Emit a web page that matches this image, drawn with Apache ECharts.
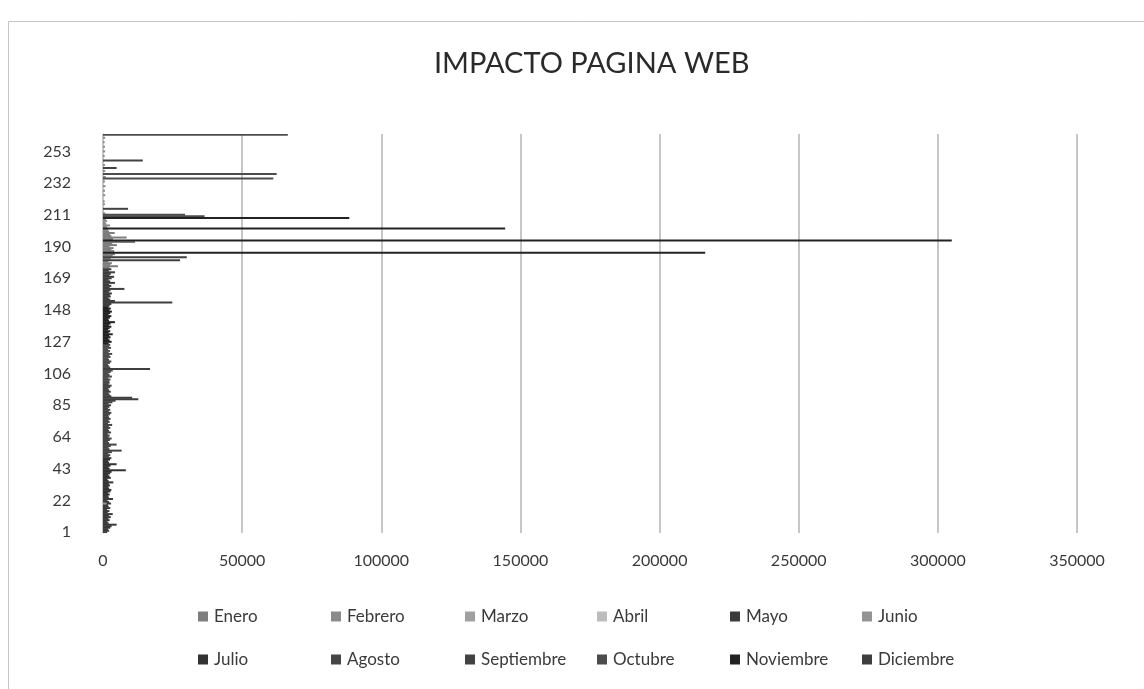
<!DOCTYPE html>
<html>
<head>
<meta charset="utf-8">
<script src="https://cdn.jsdelivr.net/npm/echarts@6/dist/echarts.min.js"></script>
<style>
html,body{margin:0;padding:0;background:#fff;}
#chart{width:1144px;height:689px;}
</style>
</head>
<body>
<div id="chart"></div>
<script>
// ---------- DATA ----------
const title = 'IMPACTO PAGINA WEB';
const categoryCount = 264;             // categories 1..264
const xTicks = [0, 50000, 100000, 150000, 200000, 250000, 300000, 350000];
const months = ['Enero','Febrero','Marzo','Abril','Mayo','Junio','Julio','Agosto','Septiembre','Octubre','Noviembre','Diciembre'];

// values as [category, visits]
const enero = [[176,2400],[177,5400],[178,2600],[179,3200],[180,2000],[182,2800],[184,3500],[185,4300],[187,4000],[188,3000],[189,3800],[190,2400],[191,5000],[192,3300],[193,11500],[195,3600],[196,8500],[197,3000],[198,2500],[199,4200],[200,2200]];
const febrero = [[201,1800],[203,1500],[204,2500],[205,1200],[206,900],[207,1500],[208,1000],[212,800],[218,700],[220,600],[224,800],[227,700],[230,900],[233,700],[236,1000],[240,800],[244,700],[250,600],[253,800],[256,700],[259,600],[262,800]];
const marzo = [[12,1200],[40,1400],[66,1100],[95,1300],[130,1000],[160,1200]];
const abril = [[8,900],[33,1000],[71,900],[118,1100],[142,900],[172,1000]];
const mayo = [[1,1500],[2,2200],[3,1800],[4,2600],[5,3100],[6,4900],[7,2000],[8,1600],[9,2400],[10,1900],[11,2800],[12,2100],[13,3500],[14,1700],[15,2300],[16,1500],[17,2600],[18,2000],[19,1800],[20,2900],[21,2200],[22,1600],[23,3600],[24,2100],[25,1900]];
const junio = [[20,1300],[52,1200],[84,1400],[112,1100],[148,1200],[168,1300]];
const julio = [[26,2400],[27,1800],[28,2700],[29,3000],[30,2200],[31,1900],[32,2500],[33,2100],[34,3700],[35,2000],[36,1600],[37,2800],[38,2300],[39,1900],[40,2600],[41,3100],[42,8200],[43,2400],[44,2000],[45,2700],[46,4900],[47,2200],[48,1800],[49,2500],[50,3000]];
const agosto = [[51,2100],[52,2600],[53,1900],[54,3200],[55,6700],[56,2300],[57,2000],[58,2800],[59,4900],[60,2200],[61,1800],[62,2500],[63,3100],[64,2000],[65,2400],[66,1700],[67,2900],[68,2200],[69,1900],[70,2600],[71,2100],[72,3300],[73,1800],[74,2400],[75,2000]];
const septiembre = [[76,2700],[77,2200],[78,1900],[79,2500],[80,3000],[81,2100],[82,2600],[83,1800],[84,2300],[85,2900],[86,2000],[87,3400],[88,4500],[91,3000],[92,2400],[93,2000],[94,2800],[95,2200],[96,1900],[97,2600],[98,3100],[99,2000],[100,2400],[215,9000],[242,4900],[247,14300]];
const octubre = [[101,2200],[102,2700],[103,1900],[104,3200],[105,2400],[106,2000],[107,2800],[108,3500],[110,2600],[111,2100],[112,1800],[113,2500],[114,3000],[115,2200],[116,1900],[117,2700],[118,2300],[119,3300],[120,2000],[121,2500],[122,1800],[123,2900],[124,2200],[125,2600],[264,66400],[238,62400],[235,61200],[211,29500],[210,36500]];
const noviembre = [[126,2000],[127,3100],[128,2400],[129,1900],[130,2700],[131,2200],[132,3500],[133,2000],[134,2600],[135,1800],[136,2400],[137,3000],[138,2100],[139,2700],[140,4300],[141,2200],[142,1900],[143,2500],[144,3000],[145,2000],[146,2600],[147,3200],[148,2300],[149,2800],[150,2000],[209,88500],[202,144500],[194,305000],[186,216400]];
const diciembre = [[151,2400],[152,3000],[154,4300],[155,2600],[156,2000],[157,2800],[158,2500],[159,3200],[160,2100],[161,2700],[162,7700],[163,2400],[164,3000],[165,2200],[166,4300],[167,2600],[168,2000],[169,3100],[170,4000],[171,2300],[172,2800],[173,4300],[174,2100],[175,3000],[89,12700],[90,10500],[109,16900],[153,24900],[181,27700],[183,30100]];

const monthData = [enero,febrero,marzo,abril,mayo,junio,julio,agosto,septiembre,octubre,noviembre,diciembre];
const monthColors = ['#7e7e7e','#8a8a8a','#a0a0a0','#bcbcbc','#3a3a3a','#949494','#333333','#454545','#424242','#4c4c4c','#222222','#3e3e3e'];

// ---------- CHART ----------
const categories = [];
for (let i = 1; i <= categoryCount; i++) categories.push(String(i));

const FONT = 'Lato, "Open Sans", sans-serif';

const series = months.map((m, i) => ({
  name: m,
  type: 'bar',
  barGap: '-100%',
  barWidth: 2,
  itemStyle: { color: monthColors[i] },
  data: monthData[i].map(d => [d[1], d[0] - 1]),
  animation: false
}));

const legendX = [198, 331, 465, 597, 730, 862];
const legendY = [608, 651];
const legends = months.map((m, i) => ({
  data: [m],
  left: legendX[i % 6],
  top: legendY[Math.floor(i / 6)],
  padding: 0,
  itemWidth: 10,
  itemHeight: 10,
  itemGap: 5,
  icon: 'rect',
  textStyle: { fontFamily: FONT, fontSize: 17, color: '#3a3a3a', padding: [0,0,0,1] },
  selectedMode: false
}));

const chart = echarts.init(document.getElementById('chart'), null, { renderer: 'canvas' });
chart.setOption({
  backgroundColor: '#ffffff',
  animation: false,
  title: {
    text: title,
    left: 429,
    top: 44,
    textStyle: { fontFamily: FONT, fontSize: 29, fontWeight: 'normal', color: '#2a2a2a' }
  },
  legend: legends,
  grid: { left: 103, right: 67, top: 134, height: 399, containLabel: false },
  xAxis: {
    type: 'value',
    min: 0,
    max: 350000,
    interval: 50000,
    axisLine: { show: false },
    axisTick: { show: false },
    splitLine: { show: true, lineStyle: { color: '#c6c6c6', width: 2 } },
    axisLabel: {
      fontFamily: FONT, fontSize: 16, color: '#3a3a3a', margin: 20,
      formatter: v => (xTicks.indexOf(v) >= 0 ? String(v) : '')
    }
  },
  yAxis: {
    type: 'category',
    data: categories,
    axisLine: { show: true, lineStyle: { color: '#c6c6c6', width: 1 } },
    axisTick: { show: false },
    splitLine: { show: false },
    axisLabel: { interval: 20, fontFamily: FONT, fontSize: 16, color: '#3a3a3a', margin: 32 }
  },
  graphic: [{
    type: 'rect',
    shape: { x: 8.5, y: 21.5, width: 1140, height: 675 },
    style: { fill: 'none', stroke: '#c4c4c4', lineWidth: 1 },
    silent: true
  }],
  series: series
});
</script>
</body>
</html>
